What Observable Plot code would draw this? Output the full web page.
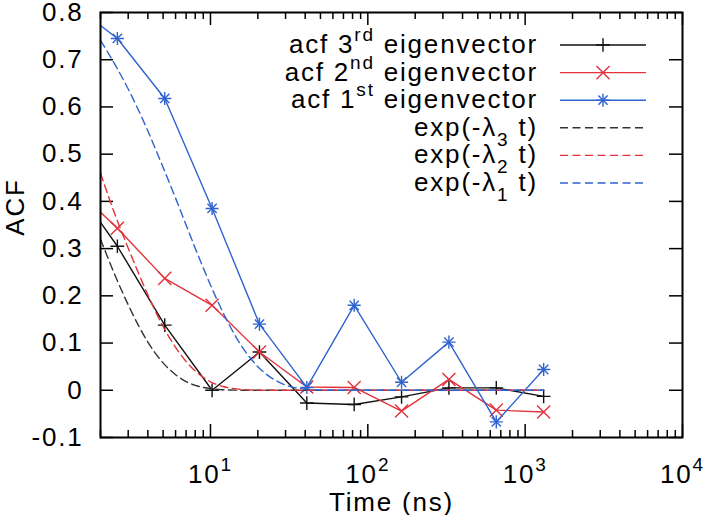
<!DOCTYPE html>
<html>
<head>
<meta charset="utf-8">
<script src="https://cdn.jsdelivr.net/npm/d3@7"></script>
<script src="https://cdn.jsdelivr.net/npm/@observablehq/plot@0.6"></script>
<style>
  html, body { margin: 0; padding: 0; background: #fff; }
  svg text { white-space: pre; }
</style>
</head>
<body>
<div id="chart"></div>
<script>
// ---- data ----
const times = [1.28, 2.56, 5.12, 10.24, 20.48, 40.96, 81.92, 163.84, 327.68, 655.36, 1310.72];
const acf3 = [0.447, 0.305, 0.138, 0.000, 0.081, -0.027, -0.030, -0.014, 0.005, 0.005, -0.013];
const acf2 = [0.439, 0.343, 0.237, 0.180, 0.081, 0.007, 0.006, -0.044, 0.023, -0.042, -0.046];
const acf1 = [0.822, 0.745, 0.618, 0.385, 0.140, 0.006, 0.180, 0.017, 0.102, -0.067, 0.044];

const expT = [2, 2.5, 3, 3.5, 4, 5, 6, 7, 8, 10, 12, 15, 20, 25, 30, 40, 60, 100, 300, 1310.72];
const exp3 = [0.320, 0.240, 0.181, 0.136, 0.102, 0.058, 0.033, 0.0185, 0.0105, 0.0033, 0.0011, 0.0002, 0, 0, 0, 0, 0, 0, 0, 0];
const exp2 = [0.460, 0.368, 0.301, 0.247, 0.202, 0.135, 0.091, 0.061, 0.041, 0.018, 0.008, 0.0025, 0.0003, 0, 0, 0, 0, 0, 0, 0];
const exp1 = [0.741, 0.687, 0.638, 0.592, 0.549, 0.472, 0.407, 0.350, 0.301, 0.223, 0.165, 0.105, 0.050, 0.024, 0.011, 0.0025, 0.0001, 0, 0, 0];

const yTicks = [-0.1, 0, 0.1, 0.2, 0.3, 0.4, 0.5, 0.6, 0.7, 0.8];
const xMajor = [10, 100, 1000, 10000];
const xMinor = [2, 3, 4, 5, 6, 7, 8, 9, 20, 30, 40, 50, 60, 70, 80, 90,
                200, 300, 400, 500, 600, 700, 800, 900, 2000, 3000, 4000, 5000, 6000, 7000, 8000, 9000];

const legendLabels = ["acf 3^{rd} eigenvector", "acf 2^{nd} eigenvector", "acf 1^{st} eigenvector",
                      "exp(-λ_{3} t)", "exp(-λ_{2} t)", "exp(-λ_{1} t)"];
const xLabel = "Time (ns)";
const yLabel = "ACF";

// ---- styles ----
const BLACK = "#111111", RED = "#e3323c", BLUE = "#2f63cf";
const DASH = "8,4.5";
const FONT = "'Liberation Sans', Arial, Helvetica, sans-serif";
const FS = 26, LS = "1.8px";

const mk = (xs, ys) => xs.map((x, i) => ({x, y: ys[i]}));
const s3 = mk(times, acf3), s2 = mk(times, acf2), s1 = mk(times, acf1);
const e3 = mk(expT, exp3), e2 = mk(expT, exp2), e1 = mk(expT, exp1);

const W = 706, H = 515, ML = 100, MR = 24, MT = 12, MB = 78;
const FW = W - ML - MR, FH = H - MT - MB;

const chart = Plot.plot({
  width: W, height: H,
  marginLeft: ML, marginRight: MR, marginTop: MT, marginBottom: MB,
  style: {fontFamily: FONT, fontSize: FS + "px", background: "#fff", color: "#000", letterSpacing: LS, overflow: "visible"},
  x: {type: "log", domain: [2, 10000]},
  y: {domain: [-0.1, 0.8]},
  marks: [
    // tick labels
    Plot.axisY({ticks: yTicks, tickSize: 0, tickPadding: 17, tickFormat: d => String(+d.toFixed(1)), label: null}),
    Plot.axisX({ticks: xMajor, tickSize: 0, tickPadding: 27, tickFormat: d => `10^{${Math.round(Math.log10(d))}}`, label: null}),
    // inward ticks on all four sides
    Plot.tickY(yTicks, {y: d => d, insetRight: FW - 13, stroke: "#000", strokeWidth: 1.5}),
    Plot.tickY(yTicks, {y: d => d, insetLeft: FW - 13, stroke: "#000", strokeWidth: 1.5}),
    Plot.tickX(xMajor, {x: d => d, insetTop: FH - 13, stroke: "#000", strokeWidth: 1.5}),
    Plot.tickX(xMajor, {x: d => d, insetBottom: FH - 13, stroke: "#000", strokeWidth: 1.5}),
    Plot.tickX(xMinor, {x: d => d, insetTop: FH - 7, stroke: "#000", strokeWidth: 1.5}),
    Plot.tickX(xMinor, {x: d => d, insetBottom: FH - 7, stroke: "#000", strokeWidth: 1.5}),
    // data series
    Plot.line(s3, {x: "x", y: "y", stroke: BLACK, strokeWidth: 1.4, clip: true}),
    Plot.dot(s3, {x: "x", y: "y", symbol: "plus", r: 4.5, stroke: BLACK, strokeWidth: 1.4, clip: true}),
    Plot.line(s2, {x: "x", y: "y", stroke: RED, strokeWidth: 1.4, clip: true}),
    Plot.dot(s2, {x: "x", y: "y", symbol: "times", r: 6, stroke: RED, strokeWidth: 1.4, clip: true}),
    Plot.line(s1, {x: "x", y: "y", stroke: BLUE, strokeWidth: 1.4, clip: true}),
    Plot.dot(s1, {x: "x", y: "y", symbol: "plus", r: 4.3, stroke: BLUE, strokeWidth: 1.4, clip: true}),
    Plot.dot(s1, {x: "x", y: "y", symbol: "times", r: 4.3, stroke: BLUE, strokeWidth: 1.4, clip: true}),
    Plot.line(e3, {x: "x", y: "y", stroke: "#333", strokeWidth: 1.4, strokeDasharray: DASH, curve: "monotone-x", clip: true}),
    Plot.line(e2, {x: "x", y: "y", stroke: RED, strokeWidth: 1.4, strokeDasharray: DASH, curve: "monotone-x", clip: true}),
    Plot.line(e1, {x: "x", y: "y", stroke: BLUE, strokeWidth: 1.4, strokeDasharray: DASH, curve: "monotone-x", clip: true}),
    // axis titles
    Plot.text([yLabel], {text: d => d, frameAnchor: "left", dx: -77, dy: -18, rotate: -90, lineAnchor: "bottom", textAnchor: "middle"}),
    Plot.text([xLabel], {text: d => d, frameAnchor: "bottom", dy: 73, lineAnchor: "bottom", textAnchor: "middle"}),
    Plot.frame({stroke: "#000", strokeWidth: 2})
  ]
});
document.getElementById("chart").appendChild(chart);

// ---- rich text (super/subscripts) ----
const SVGNS = "http://www.w3.org/2000/svg";
function richText(el, str) {
  const re = /([\^_])\{([^}]*)\}/g;
  const parts = [];
  let last = 0, m;
  while ((m = re.exec(str))) {
    if (m.index > last) parts.push({t: str.slice(last, m.index), k: ""});
    parts.push({t: m[2], k: m[1]});
    last = re.lastIndex;
  }
  if (last < str.length) parts.push({t: str.slice(last), k: ""});
  while (el.firstChild) el.removeChild(el.firstChild);
  let cur = 0;
  for (const p of parts) {
    const ts = document.createElementNS(SVGNS, "tspan");
    const target = p.k === "^" ? -12 : p.k === "_" ? 10 : 0;
    if (target !== cur) ts.setAttribute("dy", target - cur);
    cur = target;
    if (p.k) ts.setAttribute("font-size", 19);
    ts.textContent = p.t;
    el.appendChild(ts);
  }
}
const svgEl = chart.tagName.toLowerCase() === "svg" ? chart : chart.querySelector("svg");
svgEl.querySelectorAll("text").forEach(t => {
  const s = t.textContent;
  if (/[\^_]\{/.test(s)) {
    const inner = t.querySelector("tspan");
    richText(inner || t, s);
  }
});

// ---- legend ----
const legendColors = [BLACK, RED, BLUE, "#333", RED, BLUE];
const legendDash = [null, null, null, DASH, DASH, DASH];
const legendSymbols = [["plus"], ["times"], ["plus", "times"], [], [], []];
const symSize = {plus: Math.PI * 4.5 * 4.5, times: Math.PI * 6 * 6};
const symSizeAst = {plus: Math.PI * 4.3 * 4.3, times: Math.PI * 4.3 * 4.3};
const d3sym = {plus: d3.symbolPlus, times: d3.symbolTimes};
const lg = d3.select(svgEl).append("g")
  .attr("font-family", FONT).attr("font-size", FS).style("letter-spacing", LS);
legendLabels.forEach((lab, i) => {
  const y = 45 + 27.6 * i;
  const t = lg.append("text").attr("x", 538).attr("y", y + 8)
    .attr("text-anchor", "end").attr("fill", "#000");
  richText(t.node(), lab);
  lg.append("line").attr("x1", 560).attr("x2", 646).attr("y1", y).attr("y2", y)
    .attr("stroke", legendColors[i]).attr("stroke-width", 1.4)
    .attr("stroke-dasharray", legendDash[i]);
  const syms = legendSymbols[i];
  syms.forEach(s => {
    const size = syms.length > 1 ? symSizeAst[s] : symSize[s];
    lg.append("path").attr("transform", `translate(603,${y})`)
      .attr("d", d3.symbol(d3sym[s], size)())
      .attr("fill", "none").attr("stroke", legendColors[i]).attr("stroke-width", 1.4);
  });
});
</script>
</body>
</html>
